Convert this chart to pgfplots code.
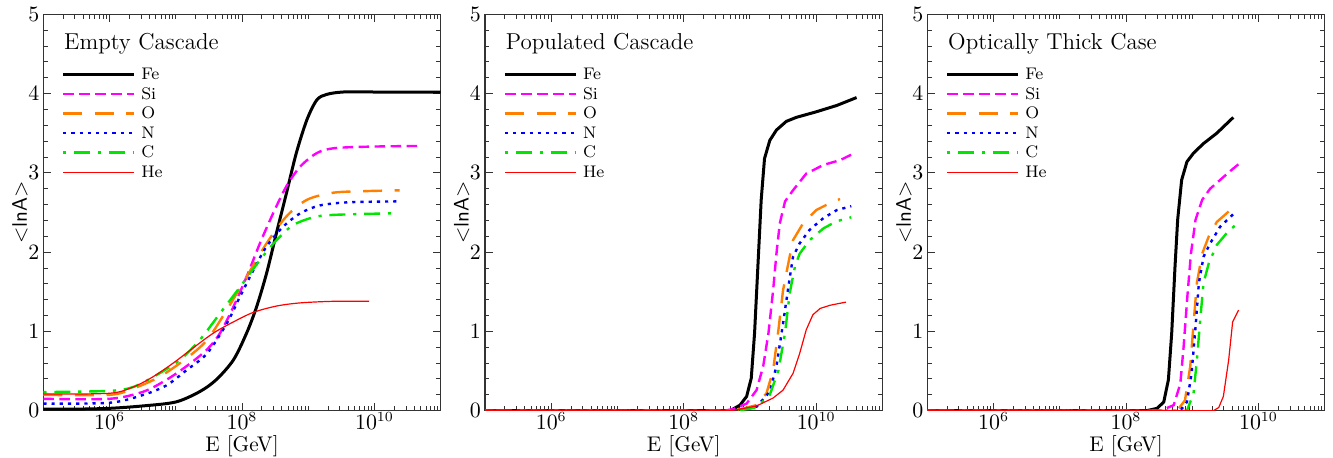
\documentclass[border=0pt]{standalone}
\usepackage{pgfplots}
\pgfplotsset{compat=1.18}
\usepackage{pgfplotstable}

\definecolor{cmag}{RGB}{255,0,255}
\definecolor{corange}{RGB}{255,128,0}
\definecolor{cblue}{RGB}{0,0,255}
\definecolor{cgreen}{RGB}{0,230,0}
\definecolor{cred}{RGB}{255,0,0}

% ---------------- Panel 1: Empty Cascade (lx = log10 E/GeV) ----------------
\pgfplotstableread{
lx y
5 0.02
5.5 0.02
6 0.03
6.5 0.06
7 0.11
7.36 0.24
7.61 0.39
7.87 0.64
8.07 0.98
8.22 1.31
8.37 1.73
8.52 2.24
8.67 2.74
8.82 3.25
8.98 3.67
9.13 3.92
9.28 3.99
9.53 4.02
10.0 4.02
11 4.02
}\EFe
\pgfplotstableread{
lx y
5 0.15
6 0.15
6.51 0.24
6.86 0.39
7.16 0.56
7.47 0.77
7.67 0.98
7.87 1.31
8.07 1.69
8.27 2.11
8.47 2.49
8.67 2.83
8.88 3.08
9.13 3.25
9.38 3.31
9.88 3.33
10.69 3.34
}\ESi
\pgfplotstableread{
lx y
5 0.20
6 0.20
6.36 0.28
6.76 0.43
7.16 0.66
7.47 0.89
7.77 1.27
8.07 1.69
8.37 2.11
8.67 2.45
8.98 2.66
9.38 2.75
9.88 2.77
10.38 2.78
}\EO
\pgfplotstableread{
lx y
5 0.09
6 0.10
6.51 0.20
6.86 0.32
7.16 0.51
7.47 0.72
7.77 1.10
7.97 1.44
8.17 1.77
8.37 2.07
8.62 2.32
8.88 2.49
9.18 2.59
9.63 2.63
10.38 2.64
}\EN
\pgfplotstableread{
lx y
5 0.235
6 0.25
6.36 0.30
6.71 0.45
7.06 0.64
7.36 0.89
7.67 1.23
7.97 1.56
8.27 1.90
8.52 2.15
8.77 2.34
9.08 2.44
9.38 2.47
10.26 2.49
}\EC
\pgfplotstableread{
lx y
5 0.21
6 0.22
6.36 0.30
6.66 0.43
6.96 0.60
7.26 0.79
7.57 0.98
7.87 1.12
8.17 1.24
8.52 1.32
8.88 1.36
9.38 1.38
9.92 1.38
}\EHe

% ---------------- Panel 2: Populated Cascade ----------------
\pgfplotstableread{
lx y
5 0
8.70 0
8.85 0.07
8.95 0.18
9.02 0.41
9.07 0.98
9.12 1.82
9.17 2.66
9.22 3.18
9.30 3.41
9.40 3.54
9.55 3.65
9.70 3.70
10.00 3.77
10.31 3.85
10.61 3.95
}\PFe
\pgfplotstableread{
lx y
5 0
8.60 0
8.75 0.02
8.95 0.09
9.10 0.26
9.20 0.56
9.28 0.98
9.35 1.52
9.40 1.98
9.45 2.36
9.53 2.64
9.65 2.78
9.85 2.99
10.11 3.10
10.36 3.16
10.58 3.25
}\PSi
\pgfplotstableread{
lx y
5 0
8.70 0
8.85 0.02
9.10 0.07
9.25 0.22
9.35 0.51
9.43 1.02
9.50 1.52
9.58 1.86
9.65 2.15
9.80 2.36
10.00 2.53
10.21 2.62
10.36 2.67
}\PO
\pgfplotstableread{
lx y
5 0
8.80 0
9.10 0.05
9.30 0.24
9.40 0.56
9.50 1.10
9.58 1.56
9.65 1.94
9.75 2.11
9.90 2.28
10.11 2.43
10.31 2.53
10.53 2.58
}\PN
\pgfplotstableread{
lx y
5 0
8.80 0
9.10 0.04
9.30 0.20
9.43 0.51
9.53 0.98
9.60 1.48
9.68 1.82
9.75 1.98
9.90 2.15
10.11 2.30
10.31 2.39
10.53 2.44
}\PC
\pgfplotstableread{
lx y
5 0
8.70 0
8.85 0.02
9.10 0.06
9.35 0.16
9.50 0.26
9.65 0.47
9.75 0.72
9.85 1.02
9.95 1.21
10.06 1.29
10.21 1.33
10.45 1.37
}\PHe

% ---------------- Panel 3: Optically Thick Case ----------------
\pgfplotstableread{
lx y
5 0
8.31 0
8.47 0.03
8.57 0.11
8.64 0.39
8.69 0.98
8.74 1.82
8.78 2.41
8.84 2.91
8.92 3.14
9.02 3.25
9.17 3.37
9.37 3.50
9.62 3.70
}\TFe
\pgfplotstableread{
lx y
5 0
8.52 0
8.72 0.07
8.82 0.34
8.87 0.81
8.93 1.48
8.98 1.98
9.05 2.41
9.15 2.66
9.27 2.80
9.42 2.91
9.57 3.02
9.70 3.11
}\TSi
\pgfplotstableread{
lx y
5 0
8.77 0
8.89 0.13
8.97 0.56
9.02 1.10
9.07 1.61
9.15 1.98
9.25 2.20
9.37 2.38
9.52 2.49
9.62 2.57
}\TO
\pgfplotstableread{
lx y
5 0
8.82 0
8.92 0.11
8.99 0.47
9.05 1.06
9.10 1.61
9.17 1.94
9.27 2.11
9.42 2.32
9.62 2.48
}\TN
\pgfplotstableread{
lx y
5 0
8.92 0
9.02 0.22
9.07 0.64
9.12 1.14
9.17 1.61
9.25 1.86
9.37 2.09
9.52 2.24
9.65 2.34
}\TC
\pgfplotstableread{
lx y
5 0
9.32 0
9.40 0.04
9.47 0.18
9.55 0.64
9.61 1.12
9.70 1.27
}\THe

\tikzset{
  sFe/.style={black, line width=1.5pt},
  sSi/.style={cmag, line width=1.2pt, dash pattern=on 5.3pt off 2.7pt},
  sO/.style={corange, line width=1.2pt, dash pattern=on 9.5pt off 6.3pt},
  sN/.style={cblue, line width=1.2pt, dash pattern=on 1.6pt off 2.5pt},
  sC/.style={cgreen, line width=1.2pt, dash pattern=on 1.6pt off 3.9pt on 8pt off 3.9pt},
  sHe/.style={cred, line width=0.6pt},
}

\pgfplotsset{
  mypanel/.style={
    scale only axis, width=198.7pt, height=198.2pt,
    anchor=south west,
    xmin=1e5, xmax=1e11, ymin=0, ymax=5,
    xtick={1e6,1e8,1e10},
    minor xtick={2e5,3e5,4e5,5e5,6e5,7e5,8e5,9e5,
                 2e6,3e6,4e6,5e6,6e6,7e6,8e6,9e6,1e7,
                 2e7,3e7,4e7,5e7,6e7,7e7,8e7,9e7,
                 2e8,3e8,4e8,5e8,6e8,7e8,8e8,9e8,1e9,
                 2e9,3e9,4e9,5e9,6e9,7e9,8e9,9e9,
                 2e10,3e10,4e10,5e10,6e10,7e10,8e10,9e10},
    ytick={0,1,2,3,4,5},
    minor y tick num=4,
    tick align=inside,
    major tick length=3.8pt, minor tick length=2.2pt,
    axis line style={black!80, line width=0.6pt},
    tick style={black!80, line width=0.5pt},
    yticklabel style={font=\fontsize{11.2}{13}\selectfont, xshift=1.5pt},
    xticklabel style={font=\fontsize{10.6}{12}\selectfont, inner ysep=0.5pt},
    xlabel={E [GeV]},
    ylabel={\fontsize{10.5}{12}\sffamily <lnA>},
    label style={font=\fontsize{10.6}{12}\selectfont},
    xlabel style={at={(axis description cs:0.5,-0.1019)}, anchor=base, inner sep=0.3pt},
    ylabel style={at={(axis description cs:-0.0586,0.5)}, anchor=center},
    legend cell align=left,
    legend style={draw=none, fill=none,
      at={(axis description cs:0.0463,0.862)}, anchor=north west,
      inner sep=0pt, outer sep=0pt, row sep=4.6pt,
      font=\fontsize{8.4}{10}\selectfont,
      nodes={inner ysep=0pt, inner xsep=2.8pt, text height=5.2pt, text depth=0pt}},
    legend image code/.code={\draw[##1] (0pt,0pt) -- (35.5pt,0pt);},
  },
}

\begin{document}
\begin{tikzpicture}
\path[use as bounding box] (0,0) rectangle (666.5pt,228.5pt);

% ---- Panel 1 ----
\begin{axis}[xmode=log, mypanel, at={(21.65pt,23.15pt)}]
\addplot[sFe, smooth] table[x expr={10^(\thisrow{lx})}, y=y] {\EFe};
\addlegendentry{Fe}
\addplot[sSi, smooth] table[x expr={10^(\thisrow{lx})}, y=y] {\ESi};
\addlegendentry{Si}
\addplot[sO, smooth] table[x expr={10^(\thisrow{lx})}, y=y] {\EO};
\addlegendentry{O}
\addplot[sN, smooth] table[x expr={10^(\thisrow{lx})}, y=y] {\EN};
\addlegendentry{N}
\addplot[sC, smooth] table[x expr={10^(\thisrow{lx})}, y=y] {\EC};
\addlegendentry{C}
\addplot[sHe, smooth] table[x expr={10^(\thisrow{lx})}, y=y] {\EHe};
\addlegendentry{He}
\node[anchor=base west, inner sep=0pt, font=\fontsize{11.5}{13}\selectfont] at (axis description cs:0.0516,0.91) {Empty Cascade};
\end{axis}

% ---- Panel 2 ----
\begin{axis}[xmode=log, mypanel, at={(242.5pt,23.15pt)}]
\addplot[sFe] table[x expr={10^(\thisrow{lx})}, y=y] {\PFe};
\addlegendentry{Fe}
\addplot[sSi] table[x expr={10^(\thisrow{lx})}, y=y] {\PSi};
\addlegendentry{Si}
\addplot[sO] table[x expr={10^(\thisrow{lx})}, y=y] {\PO};
\addlegendentry{O}
\addplot[sN] table[x expr={10^(\thisrow{lx})}, y=y] {\PN};
\addlegendentry{N}
\addplot[sC] table[x expr={10^(\thisrow{lx})}, y=y] {\PC};
\addlegendentry{C}
\addplot[sHe] table[x expr={10^(\thisrow{lx})}, y=y] {\PHe};
\addlegendentry{He}
\node[anchor=base west, inner sep=0pt, font=\fontsize{11.5}{13}\selectfont] at (axis description cs:0.0516,0.91) {Populated Cascade};
\end{axis}

% ---- Panel 3 ----
\begin{axis}[xmode=log, mypanel, at={(463.65pt,23.15pt)}]
\addplot[sFe] table[x expr={10^(\thisrow{lx})}, y=y] {\TFe};
\addlegendentry{Fe}
\addplot[sSi] table[x expr={10^(\thisrow{lx})}, y=y] {\TSi};
\addlegendentry{Si}
\addplot[sO] table[x expr={10^(\thisrow{lx})}, y=y] {\TO};
\addlegendentry{O}
\addplot[sN] table[x expr={10^(\thisrow{lx})}, y=y] {\TN};
\addlegendentry{N}
\addplot[sC] table[x expr={10^(\thisrow{lx})}, y=y] {\TC};
\addlegendentry{C}
\addplot[sHe] table[x expr={10^(\thisrow{lx})}, y=y] {\THe};
\addlegendentry{He}
\node[anchor=base west, inner sep=0pt, font=\fontsize{11.5}{13}\selectfont] at (axis description cs:0.0516,0.91) {Optically Thick Case};
\end{axis}
\end{tikzpicture}
\end{document}
